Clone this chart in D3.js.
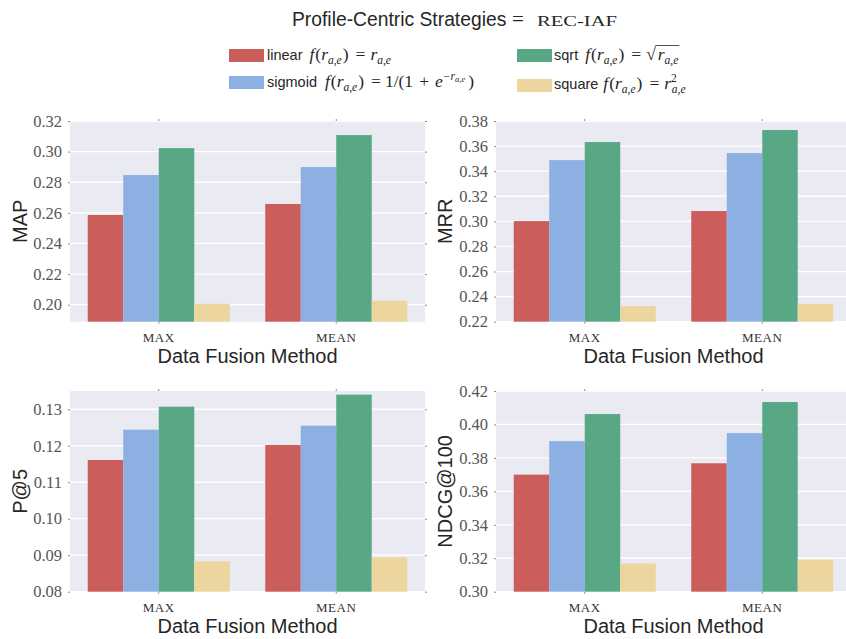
<!DOCTYPE html>
<html>
<head>
<meta charset="utf-8">
<script src="https://cdn.jsdelivr.net/npm/d3@7"></script>
<style>
  html, body { margin: 0; padding: 0; background: #ffffff; }
  svg { display: block; }
</style>
</head>
<body>
<svg id="chart" width="846" height="639"></svg>
<script>
// ---------------- DATA ----------------
const categories = ["MAX", "MEAN"];
const seriesNames = ["linear", "sigmoid", "sqrt", "square"];
const seriesColors = ["#cb5e5b", "#8cb0e2", "#58a886", "#ecd59f"];

// values per series: [MAX, MEAN]
const mapValues  = [[0.2586, 0.2658], [0.2847, 0.2899], [0.3023, 0.3108], [0.2006, 0.2026]];
const mrrValues  = [[0.3002, 0.3082], [0.3488, 0.3544], [0.3632, 0.3728], [0.2325, 0.2342]];
const p5Values   = [[0.1161, 0.1202], [0.1244, 0.1255], [0.1307, 0.1340], [0.0883, 0.0894]];
const ndcgValues = [[0.3700, 0.3768], [0.3900, 0.3948], [0.4062, 0.4134], [0.3168, 0.3192]];

const mapTicks  = [0.20, 0.22, 0.24, 0.26, 0.28, 0.30, 0.32];
const mrrTicks  = [0.22, 0.24, 0.26, 0.28, 0.30, 0.32, 0.34, 0.36, 0.38];
const p5Ticks   = [0.08, 0.09, 0.10, 0.11, 0.12, 0.13];
const ndcgTicks = [0.30, 0.32, 0.34, 0.36, 0.38, 0.40, 0.42];

const metricNames = ["MAP", "MRR", "P@5", "NDCG@100"];
const xAxisTitle = "Data Fusion Method";
const titleText = "Profile-Centric Strategies";
const titleMath = "REC-IAF";

// ---------------- LAYOUT ----------------
const svg = d3.select("#chart");
const SANS = "'Liberation Sans', Arimo, Arial, sans-serif";
const SERIF = "'Liberation Serif', 'Times New Roman', serif";
const TEXT = "#262626";

const panels = [
  { name: metricNames[0], values: mapValues,  ticks: mapTicks,  domain: [0.1889, 0.32], fmt: ".2f", x0: 70,  y0: 121, labelX: 27 },
  { name: metricNames[1], values: mrrValues,  ticks: mrrTicks,  domain: [0.22, 0.38],   fmt: ".2f", x0: 496, y0: 121, labelX: 452 },
  { name: metricNames[2], values: p5Values,   ticks: p5Ticks,   domain: [0.08, 0.135],  fmt: ".2f", x0: 70,  y0: 391, labelX: 27 },
  { name: metricNames[3], values: ndcgValues, ticks: ndcgTicks, domain: [0.30, 0.42],   fmt: ".2f", x0: 496, y0: 391, labelX: 452 }
];
const PW = 355, PH = 200.7;

panels.forEach(p => {
  const g = svg.append("g").attr("transform", `translate(${p.x0},${p.y0})`);
  const x = d3.scaleBand().domain(categories).range([0, PW]).paddingInner(0.2).paddingOuter(0.1);
  const xs = d3.scaleBand().domain(seriesNames).range([0, x.bandwidth()]);
  const y = d3.scaleLinear().domain(p.domain).range([PH, 0]);

  g.append("rect").attr("width", PW).attr("height", PH).attr("fill", "#eaeaf2");

  // gridlines
  g.append("g").selectAll("line").data(p.ticks).join("line")
    .attr("x1", 0).attr("x2", PW)
    .attr("y1", d => y(d)).attr("y2", d => y(d))
    .attr("stroke", "#ffffff").attr("stroke-width", 1.3);

  // bars
  seriesNames.forEach((s, si) => {
    g.append("g").selectAll("rect").data(categories).join("rect")
      .attr("x", c => x(c) + xs(s))
      .attr("width", xs.bandwidth())
      .attr("y", (c, ci) => y(p.values[si][ci]))
      .attr("height", (c, ci) => PH - y(p.values[si][ci]))
      .attr("fill", seriesColors[si]);
  });

  // y axis (left) with labels
  const yAxis = d3.axisLeft(y).tickValues(p.ticks).tickFormat(d3.format(p.fmt)).tickSize(2).tickPadding(6);
  const ya = g.append("g").call(yAxis).attr("font-family", null);
  ya.select(".domain").remove();
  ya.selectAll(".tick line").attr("stroke", "#8a8a8a");
  ya.selectAll(".tick text").style("font-family", SERIF).style("font-size", "16.5px").attr("fill", "#555555");

  // right ticks
  const yr = g.append("g").attr("transform", `translate(${PW},0)`)
    .call(d3.axisRight(y).tickValues(p.ticks).tickSize(2).tickFormat(""));
  yr.select(".domain").remove();
  yr.selectAll(".tick line").attr("stroke", "#8a8a8a");

  // x axis (bottom) with labels
  const xa = g.append("g").attr("transform", `translate(0,${PH})`)
    .call(d3.axisBottom(x).tickSize(2).tickPadding(6)).attr("font-family", null);
  xa.select(".domain").remove();
  xa.selectAll(".tick line").attr("stroke", "#8a8a8a");
  xa.selectAll(".tick text").style("font-family", SERIF).style("font-size", "13px")
    .attr("fill", "#333333").attr("letter-spacing", 0.6).attr("dy", "0.95em");

  // top ticks
  const xt = g.append("g").call(d3.axisTop(x).tickSize(2).tickFormat(""));
  xt.select(".domain").remove();
  xt.selectAll(".tick line").attr("stroke", "#8a8a8a");

  // axis titles
  g.append("text").attr("x", PW / 2).attr("y", PH + 41)
    .attr("text-anchor", "middle").style("font-family", SANS).style("font-size", "20px")
    .attr("fill", TEXT).text(xAxisTitle);
  svg.append("text")
    .attr("transform", `translate(${p.labelX},${p.y0 + PH / 2}) rotate(-90)`)
    .attr("text-anchor", "middle").style("font-family", SANS).style("font-size", "20px")
    .attr("fill", TEXT).text(p.name);
});

// ---------------- TITLE ----------------
const title = svg.append("text").attr("x", 292).attr("y", 26).attr("fill", TEXT);
title.append("tspan").style("font-family", SANS).style("font-size", "19.3px").text(titleText + " ");
title.append("tspan").style("font-family", SERIF).style("font-size", "21px").attr("x", 512).text("=");
title.append("tspan").style("font-family", SERIF).style("font-size", "14.5px").attr("x", 537)
  .attr("textLength", 80).attr("lengthAdjust", "spacingAndGlyphs").text(titleMath);

// ---------------- LEGEND ----------------
// rich-text helper: parts = [{t, k:'sans'|'serif'|'ital', s:size, dy, dx}]
function rich(x, yb, parts) {
  const t = svg.append("text").attr("x", x).attr("y", yb).attr("fill", TEXT);
  parts.forEach(pt => {
    const ts = t.append("tspan").text(pt.t)
      .style("font-family", pt.k === "sans" ? SANS : SERIF)
      .style("font-style", pt.k === "ital" ? "italic" : "normal")
      .style("font-size", (pt.s || (pt.k === "sans" ? 14.5 : 17.5)) + "px")
      .style("white-space", "pre");
    if (pt.dy) ts.attr("dy", pt.dy);
    if (pt.dx) ts.attr("dx", pt.dx);
  });
  return t;
}
const fr = fdx => [
  { t: "f", k: "ital", dx: fdx }, { t: "(", k: "serif", dx: 1 }, { t: "r", k: "ital" },
  { t: "a,e", k: "ital", s: 11.5, dy: 4 }, { t: ")", k: "serif", dy: -4, dx: 1 },
  { t: "=", k: "serif", dx: 7 }
];
const legendItems = [
  { x: 229, py: 49, tx: 267, ty: 59.5, parts: [{ t: "linear", k: "sans" }, ...fr(7),
      { t: "r", k: "ital", dx: 5 }, { t: "a,e", k: "ital", s: 11.5, dy: 4 }] },
  { x: 229, py: 76, tx: 267, ty: 86.5, parts: [{ t: "sigmoid", k: "sans" }, ...fr(8),
      { t: "1/(1", k: "serif", dx: 4 }, { t: "+", k: "serif", dx: 6 }, { t: "e", k: "ital", dx: 6 },
      { t: "\u2212r", k: "ital", s: 11.5, dy: -7 }, { t: "a,e", k: "ital", s: 8.5, dy: 2.5 },
      { t: ")", k: "serif", dy: 4.5, dx: 3 }] },
  { x: 517, py: 49, tx: 554, ty: 60, parts: [{ t: "sqrt", k: "sans" }, ...fr(7),
      { t: "\u221A", k: "serif", dx: 5 }, { t: "r", k: "ital", dx: 2 }, { t: "a,e", k: "ital", s: 11.5, dy: 4 }], sqrt: true },
  { x: 517, py: 79, tx: 554, ty: 89, parts: [{ t: "square", k: "sans" }, ...fr(5),
      { t: "r", k: "ital", dx: 5 }, { t: "2", k: "serif", s: 11.5, dy: -7 }, { t: "a,e", k: "ital", s: 11.5, dy: 11, dx: -5 }] }
];
legendItems.forEach((it, i) => {
  svg.append("rect").attr("x", it.x).attr("y", it.py).attr("width", 35).attr("height", 13)
    .attr("fill", seriesColors[i]);
  const t = rich(it.tx, it.ty, it.parts);
  if (it.sqrt) {
    const node = t.node();
    let idx = 0;
    for (const pt of it.parts) { if (pt.t === "\u221A") break; idx += pt.t.length; }
    const ext = node.getExtentOfChar(idx);
    const bb = node.getBBox();
    svg.append("line").attr("x1", ext.x + ext.width - 0.5).attr("x2", bb.x + bb.width + 1)
      .attr("y1", ext.y + 1.5).attr("y2", ext.y + 1.5)
      .attr("stroke", TEXT).attr("stroke-width", 0.8);
  }
});
</script>
</body>
</html>
